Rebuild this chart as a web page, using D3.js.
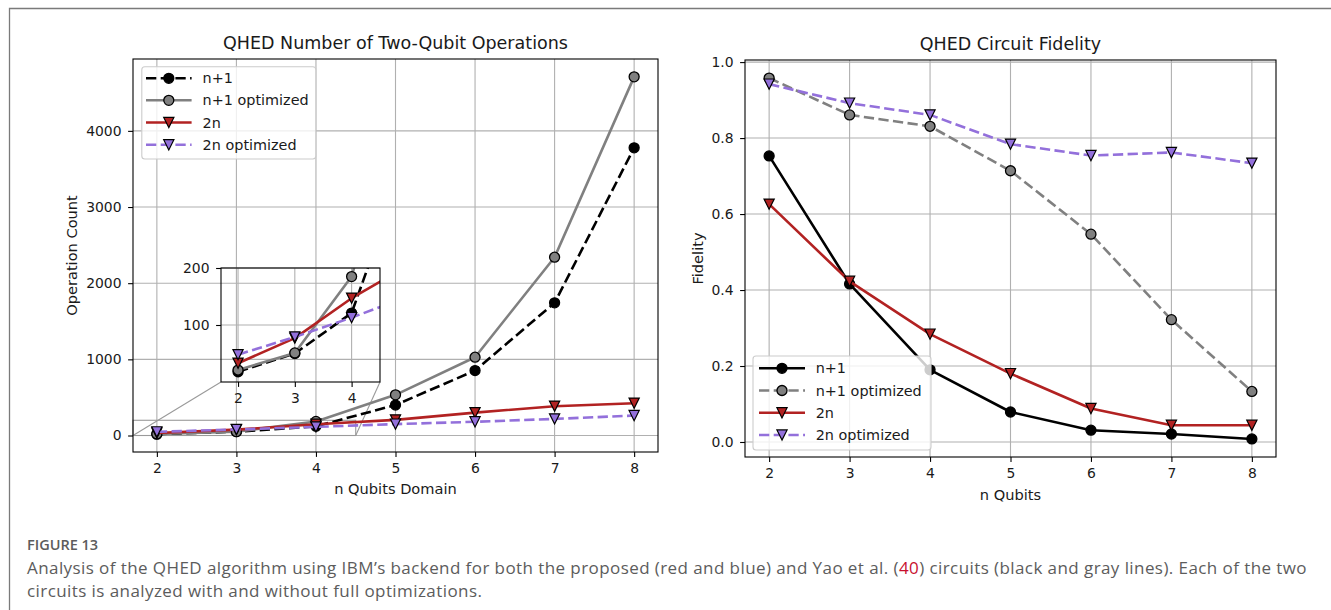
<!DOCTYPE html>
<html>
<head>
<meta charset="utf-8">
<script src="https://cdn.jsdelivr.net/npm/d3@7"></script>
<style>
body { margin: 0; background: #fff; }
svg text { font-family: "DejaVu Sans", sans-serif; fill: #1a1a1a; }
svg text.cap { font-family: "Open Sans", sans-serif; }
</style>
</head>
<body>
<div id="content"></div>
<script>
var w = 1331;
var h = 610;

// x values for both panels
var qubits = [2, 3, 4, 5, 6, 7, 8];
var xTicks = [2, 3, 4, 5, 6, 7, 8];
var insetXTicks = [2, 3, 4];

// two-qubit operation counts
var opsNp1 = [18, 50, 121, 400, 853, 1742, 3777];
var opsNp1Opt = [21, 51, 185, 534, 1028, 2341, 4709];
var ops2n = [33, 77, 147, 205, 300, 385, 424];
var ops2nOpt = [48, 79, 113, 150, 180, 218, 262];
var opsTicks = [0, 1000, 2000, 3000, 4000];
var insetYTicks = [100, 200];
var insetXDomain = [1.7, 4.5];
var insetYDomain = [0, 200];

// circuit fidelity
var fidNp1 = [0.753, 0.416, 0.190, 0.079, 0.031, 0.021, 0.008];
var fidNp1Opt = [0.958, 0.861, 0.831, 0.714, 0.547, 0.322, 0.133];
var fid2n = [0.626, 0.423, 0.284, 0.180, 0.088, 0.044, 0.044];
var fid2nOpt = [0.942, 0.892, 0.861, 0.784, 0.754, 0.762, 0.734];
var fidTicks = [0.0, 0.2, 0.4, 0.6, 0.8, 1.0];

var seriesNames = ["n+1", "n+1 optimized", "2n", "2n optimized"];

var BLACK = "#000000", GRAY = "#808080", RED = "#b22222", PURPLE = "#9370db";
var DASH = "10.3,4.4";
var LW = 2.6;
var FS = 13.9;      // tick labels
var FS_LEG = 14.4;  // legend
var FS_LAB = 14.6;  // axis labels

var svg = d3.select("#content").append("svg")
    .attr("width", w).attr("height", h);

// page frame round the figure
svg.append("path")
    .attr("d", "M9.5," + (h + 5) + " L9.5,8.5 L" + (w + 5) + ",8.5")
    .attr("fill", "none").attr("stroke", "#7a7a7a").attr("stroke-width", 1.3);

function padded(arrays) {
    var all = d3.merge(arrays);
    var e = d3.extent(all);
    var p = (e[1] - e[0]) * 0.05;
    return [e[0] - p, e[1] + p];
}

function marker(g, type, face, cx, cy) {
    if (type == "o") {
        g.append("circle").attr("cx", cx).attr("cy", cy).attr("r", 5)
            .attr("fill", face).attr("stroke", "#000").attr("stroke-width", 1.3);
    } else {
        var s = 5.1;
        g.append("path")
            .attr("d", "M" + cx + "," + (cy + s) + " L" + (cx - s) + "," + (cy - s) + " L" + (cx + s) + "," + (cy - s) + " Z")
            .attr("fill", face).attr("stroke", "#000").attr("stroke-width", 1.2)
            .attr("stroke-linejoin", "miter");
    }
}

function drawSeries(g, x, y, series) {
    var line = d3.line().x((d, i) => x(qubits[i])).y(d => y(d));
    series.forEach(s => {
        g.append("path")
            .attr("d", line(s.values))
            .attr("fill", "none")
            .attr("stroke", s.color)
            .attr("stroke-width", LW)
            .attr("stroke-dasharray", s.dash ? DASH : null)
            .attr("stroke-linejoin", "round");
        s.values.forEach((v, i) => marker(g, s.marker, s.face, x(qubits[i]), y(v)));
    });
}

function drawGrid(g, x, y, xt, yt) {
    var x0 = x.range()[0], x1 = x.range()[1], y0 = y.range()[0], y1 = y.range()[1];
    g.selectAll(null).data(xt).enter().append("line")
        .attr("x1", d => x(d)).attr("x2", d => x(d)).attr("y1", y0).attr("y2", y1)
        .attr("stroke", "#b0b0b0").attr("stroke-width", 1.1);
    g.selectAll(null).data(yt).enter().append("line")
        .attr("x1", x0).attr("x2", x1).attr("y1", d => y(d)).attr("y2", d => y(d))
        .attr("stroke", "#b0b0b0").attr("stroke-width", 1.1);
}

function drawAxes(g, x, y, xt, yt, yfmt) {
    var x0 = x.range()[0], x1 = x.range()[1], y0 = y.range()[0], y1 = y.range()[1];
    var ax = g.append("g").attr("transform", "translate(0," + y0 + ")")
        .call(d3.axisBottom(x).tickValues(xt).tickSize(4.9).tickPadding(6.5).tickFormat(d3.format("d")));
    var ay = g.append("g").attr("transform", "translate(" + x0 + ",0)")
        .call(d3.axisLeft(y).tickValues(yt).tickSize(4.9).tickPadding(6.6).tickFormat(yfmt));
    [ax, ay].forEach(a => {
        a.select(".domain").remove();
        a.selectAll("line").attr("stroke", "#000").attr("stroke-width", 1.1);
        a.selectAll("text").attr("font-size", FS).attr("font-family", "DejaVu Sans").attr("fill", "#1a1a1a");
    });
    g.append("rect").attr("x", x0).attr("y", y1).attr("width", x1 - x0).attr("height", y0 - y1)
        .attr("fill", "none").attr("stroke", "#000").attr("stroke-width", 1.1);
}

function drawLegend(g, box, items) {
    g.append("rect").attr("x", box.x0).attr("y", box.y0)
        .attr("width", box.x1 - box.x0).attr("height", box.y1 - box.y0)
        .attr("rx", 3).attr("fill", "#fff").attr("fill-opacity", 0.8)
        .attr("stroke", "#cccccc").attr("stroke-width", 1.1);
    items.forEach((s, i) => {
        var yy = box.rows[i];
        g.append("line").attr("x1", box.hx0).attr("x2", box.hx1).attr("y1", yy).attr("y2", yy)
            .attr("stroke", s.color).attr("stroke-width", LW)
            .attr("stroke-dasharray", s.dash ? DASH : null);
        marker(g, s.marker, s.face, (box.hx0 + box.hx1) / 2, yy);
        g.append("text").attr("x", box.tx).attr("y", yy).attr("dy", "0.36em")
            .attr("font-size", FS_LEG).text(seriesNames[i]);
    });
}

function clip(id, x, y) {
    svg.append("clipPath").attr("id", id).append("rect")
        .attr("x", x.range()[0]).attr("y", y.range()[1])
        .attr("width", x.range()[1] - x.range()[0]).attr("height", y.range()[0] - y.range()[1]);
}

// ---------- left panel: operation counts ----------
var opsSeries = [
    { values: opsNp1, color: BLACK, face: BLACK, dash: true, marker: "o" },
    { values: opsNp1Opt, color: GRAY, face: GRAY, dash: false, marker: "o" },
    { values: ops2n, color: RED, face: RED, dash: false, marker: "v" },
    { values: ops2nOpt, color: PURPLE, face: PURPLE, dash: true, marker: "v" }
];
var xL = d3.scaleLinear().domain([1.7, 8.3]).range([133, 658]);
var yL = d3.scaleLinear().domain(padded([opsNp1, opsNp1Opt, ops2n, ops2nOpt])).range([452, 59]);
var gL = svg.append("g");
clip("clipL", xL, yL);
drawGrid(gL, xL, yL, xTicks, opsTicks);

// zoom indicator and connectors
var xi = d3.scaleLinear().domain(insetXDomain).range([221, 380]);
var yi = d3.scaleLinear().domain(insetYDomain).range([382, 268]);
gL.append("rect")
    .attr("x", xL(insetXDomain[0])).attr("y", yL(insetYDomain[1]))
    .attr("width", xL(insetXDomain[1]) - xL(insetXDomain[0]))
    .attr("height", yL(insetYDomain[0]) - yL(insetYDomain[1]))
    .attr("fill", "none").attr("stroke", "#9a9a9a").attr("stroke-width", 1.1);
[[insetXDomain[0], xi.range()[0]], [insetXDomain[1], xi.range()[1]]].forEach(p => {
    gL.append("line").attr("x1", xL(p[0])).attr("y1", yL(insetYDomain[0]))
        .attr("x2", p[1]).attr("y2", yi.range()[0])
        .attr("stroke", "#9a9a9a").attr("stroke-width", 1.1);
});

var gLd = gL.append("g").attr("clip-path", "url(#clipL)");
drawSeries(gLd, xL, yL, opsSeries);
drawAxes(gL, xL, yL, xTicks, opsTicks, d3.format("d"));
drawLegend(gL, { x0: 141.8, x1: 315.8, y0: 66.7, y1: 159, hx0: 146, hx1: 191.6, tx: 202.6,
    rows: [78.3, 100.3, 122.5, 144.8] }, opsSeries);

gL.append("text").attr("x", 395.5).attr("y", 49).attr("text-anchor", "middle")
    .attr("font-size", 17.5).text("QHED Number of Two-Qubit Operations");
gL.append("text").attr("x", 395.5).attr("y", 494).attr("text-anchor", "middle")
    .attr("font-size", FS_LAB).text("n Qubits Domain");
gL.append("text").attr("transform", "translate(77,255.5) rotate(-90)").attr("text-anchor", "middle")
    .attr("font-size", FS_LAB).text("Operation Count");

// inset
var gI = svg.append("g");
clip("clipI", xi, yi);
drawGrid(gI, xi, yi, insetXTicks, insetYTicks);
drawSeries(gI.append("g").attr("clip-path", "url(#clipI)"), xi, yi, opsSeries);
drawAxes(gI, xi, yi, insetXTicks, insetYTicks, d3.format("d"));

// ---------- right panel: fidelity ----------
var fidSeries = [
    { values: fidNp1, color: BLACK, face: BLACK, dash: false, marker: "o" },
    { values: fidNp1Opt, color: GRAY, face: GRAY, dash: true, marker: "o" },
    { values: fid2n, color: RED, face: RED, dash: false, marker: "v" },
    { values: fid2nOpt, color: PURPLE, face: PURPLE, dash: true, marker: "v" }
];
var xR = d3.scaleLinear().domain([1.7, 8.3]).range([745, 1276]);
var yR = d3.scaleLinear().domain(padded([fidNp1, fidNp1Opt, fid2n, fid2nOpt])).range([457, 60]);
var gR = svg.append("g");
clip("clipR", xR, yR);
drawGrid(gR, xR, yR, xTicks, fidTicks);
drawSeries(gR.append("g").attr("clip-path", "url(#clipR)"), xR, yR, fidSeries);
drawAxes(gR, xR, yR, xTicks, fidTicks, d3.format(".1f"));
drawLegend(gR, { x0: 753, x1: 931, y0: 356, y1: 450, hx0: 759, hx1: 805, tx: 815.7,
    rows: [368.3, 390.5, 412.8, 435] }, fidSeries);

gR.append("text").attr("x", 1010.5).attr("y", 50).attr("text-anchor", "middle")
    .attr("font-size", 17.5).text("QHED Circuit Fidelity");
gR.append("text").attr("x", 1010.5).attr("y", 500).attr("text-anchor", "middle")
    .attr("font-size", FS_LAB).text("n Qubits");
gR.append("text").attr("transform", "translate(703,258.5) rotate(-90)").attr("text-anchor", "middle")
    .attr("font-size", FS_LAB).text("Fidelity");

// ---------- caption ----------
svg.append("text").attr("class", "cap").attr("x", 27).attr("y", 550)
    .attr("font-size", 14.5).attr("font-weight", 600).style("fill", "#5c5c5c").text("FIGURE 13");
var cap1 = svg.append("text").attr("class", "cap").attr("x", 27).attr("y", 574)
    .attr("font-size", 17).attr("letter-spacing", 0.42).style("fill", "#5c5c5c");
cap1.append("tspan").text("Analysis of the QHED algorithm using IBM\u2019s backend for both the proposed (red and blue) and Yao et al. (");
cap1.append("tspan").style("fill", "#c8102e").text("40");
cap1.append("tspan").text(") circuits (black and gray lines). Each of the two");
svg.append("text").attr("class", "cap").attr("x", 27).attr("y", 597)
    .attr("font-size", 17).attr("letter-spacing", 0.42).style("fill", "#5c5c5c")
    .text("circuits is analyzed with and without full optimizations.");
</script>
</body>
</html>
